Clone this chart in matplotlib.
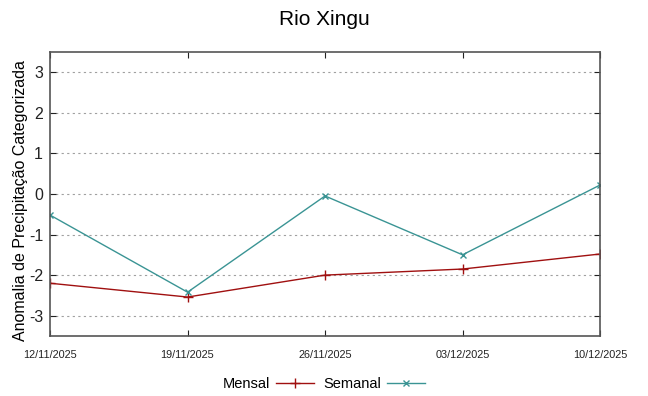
import matplotlib
matplotlib.use('Agg')
import matplotlib.pyplot as plt
import pandas as pd

plt.rcParams['font.family'] = ['Liberation Sans', 'DejaVu Sans']
plt.rcParams['axes.unicode_minus'] = False

# Data
datas = ['12/11/2025', '19/11/2025', '26/11/2025', '03/12/2025', '10/12/2025']
mensal = [-2.2, -2.54, -2.0, -1.85, -1.48]
semanal = [-0.52, -2.42, -0.05, -1.5, 0.22]

x = pd.to_datetime(datas, format='%d/%m/%Y')

fig = plt.figure(figsize=(6.48, 3.96), dpi=100)
ax = fig.add_axes([0.0772, 0.1515, 0.8488, 0.7175])

ax.plot(x, mensal, color='#a01010', lw=1.0, marker='+', ms=7, mew=1.0, label='Mensal')
ax.plot(x, semanal, color='#3a9494', lw=1.0, marker='x', ms=5, mew=1.0, label='Semanal')

ax.set_xlim(x[0], x[-1])
ax.set_ylim(-3.5, 3.5)
ax.set_yticks([-3, -2, -1, 0, 1, 2, 3])
ax.set_xticks(x)
ax.set_xticklabels(datas, fontsize=7.8)
ax.tick_params(axis='y', labelsize=11.5, direction='in', right=True, length=4, pad=5, colors='#222222')
ax.tick_params(axis='x', direction='in', top=True, length=4, pad=10, colors='#222222')
ax.grid(axis='y', color='#a0a0a0', ls=(0, (2, 3)), lw=0.8)

for s in ax.spines.values():
    s.set_color('#555555')
    s.set_linewidth(1.2)

ax.set_ylabel('Anomalia de Precipitação Categorizada', fontsize=11.5)
ax.yaxis.set_label_coords(-0.04, 0.475)
fig.suptitle('Rio Xingu', fontsize=15, y=0.975)

fig.legend(loc='lower center', bbox_to_anchor=(0.5, -0.02), ncol=2, frameon=False,
           fontsize=10.5, handlelength=2.6, columnspacing=0.6, handletextpad=0.4,
           markerfirst=False)

plt.savefig('out.png', dpi=100)
